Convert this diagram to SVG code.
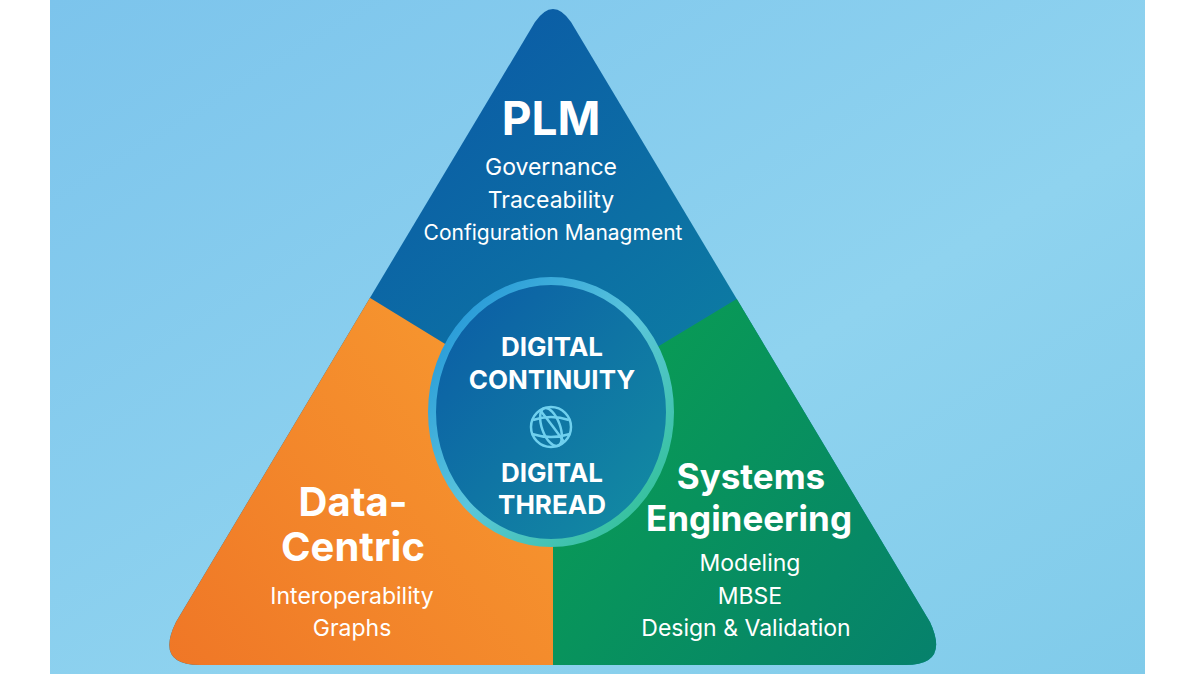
<svg xmlns="http://www.w3.org/2000/svg" width="1200" height="674" viewBox="0 0 1200 674">
<defs>
<linearGradient id="bg" x1="0" y1="0" x2="1" y2="1"><stop offset="0" stop-color="#7cc4ec"/><stop offset="0.6" stop-color="#8fd3ef"/><stop offset="1" stop-color="#80cbea"/></linearGradient>
<linearGradient id="gb" x1="0" y1="0" x2="1" y2="1"><stop offset="0.2" stop-color="#0b5aa6"/><stop offset="1" stop-color="#0e9aa0"/></linearGradient>
<linearGradient id="go" x1="0" y1="1" x2="1" y2="0"><stop offset="0" stop-color="#ef7526"/><stop offset="1" stop-color="#f9a232"/></linearGradient>
<linearGradient id="gg" x1="0" y1="0" x2="1" y2="1"><stop offset="0" stop-color="#0aa54c"/><stop offset="1" stop-color="#06806d"/></linearGradient>
<linearGradient id="gc" x1="0" y1="0" x2="1" y2="1"><stop offset="0" stop-color="#0b5aa6"/><stop offset="1" stop-color="#138fa2"/></linearGradient>
<linearGradient id="gs" x1="0" y1="0" x2="1" y2="1"><stop offset="0" stop-color="#1a8fd8"/><stop offset="0.5" stop-color="#5cc6dc"/><stop offset="1" stop-color="#2ac08a"/></linearGradient>
<clipPath id="tri"><path d="M535,22 Q553,-4 571,22 L930,622 Q950,665 905,665 L200,665 Q155,665 176,622 Z"/></clipPath>
<style>
text{font-family:Inter,Roboto,"Liberation Sans",sans-serif;fill:#fff;text-anchor:middle}
.h{font-weight:700}
.s{font-size:23px}
</style>
</defs>
<rect width="1200" height="674" fill="#fff"/>
<rect x="50" width="1095" height="674" fill="url(#bg)"/>
<g id="regions" clip-path="url(#tri)">
<rect x="150" y="0" width="800" height="674" fill="url(#gb)"/>
<polygon points="553,410 150,163 150,674 553,674" fill="url(#go)"/>
<polygon points="553,410 950,170 950,674 553,674" fill="url(#gg)"/>
</g>
<g id="plm">
<text class="h" x="551" y="135" font-size="46">PLM</text>
<text class="s" x="551" y="175">Governance</text>
<text class="s" x="551" y="208">Traceability</text>
<text x="553" y="240" font-size="21">Configuration Managment</text>
</g>
<g id="data">
<text class="h" x="353" y="516" font-size="40">Data-</text>
<text class="h" x="353" y="561" font-size="40">Centric</text>
<text class="s" x="352" y="604">Interoperability</text>
<text class="s" x="352" y="636">Graphs</text>
</g>
<g id="se">
<text class="h" x="751" y="489" font-size="35">Systems</text>
<text class="h" x="749" y="531" font-size="35">Engineering</text>
<text class="s" x="750" y="571">Modeling</text>
<text class="s" x="750" y="604">MBSE</text>
<text class="s" x="746" y="636">Design &amp; Validation</text>
</g>
<g id="center">
<ellipse cx="551" cy="412" rx="119" ry="131" fill="url(#gc)" stroke="url(#gs)" stroke-width="8"/>
<text class="h" x="552" y="356" font-size="26">DIGITAL</text>
<text class="h" x="552" y="389" font-size="26">CONTINUITY</text>
<text class="h" x="552" y="482" font-size="26">DIGITAL</text>
<text class="h" x="552" y="514" font-size="26">THREAD</text>
<g fill="none" stroke="#6fd0ee" stroke-width="2.5">
<circle cx="551" cy="427" r="20"/>
<ellipse cx="551" cy="427" rx="9" ry="20" transform="rotate(-20 551 427)"/>
<path d="M533,420 Q551,414 569,420 M532,434 Q551,440 570,434 M540,410 Q556,430 564,442"/>
</g>
</g>
</svg>
